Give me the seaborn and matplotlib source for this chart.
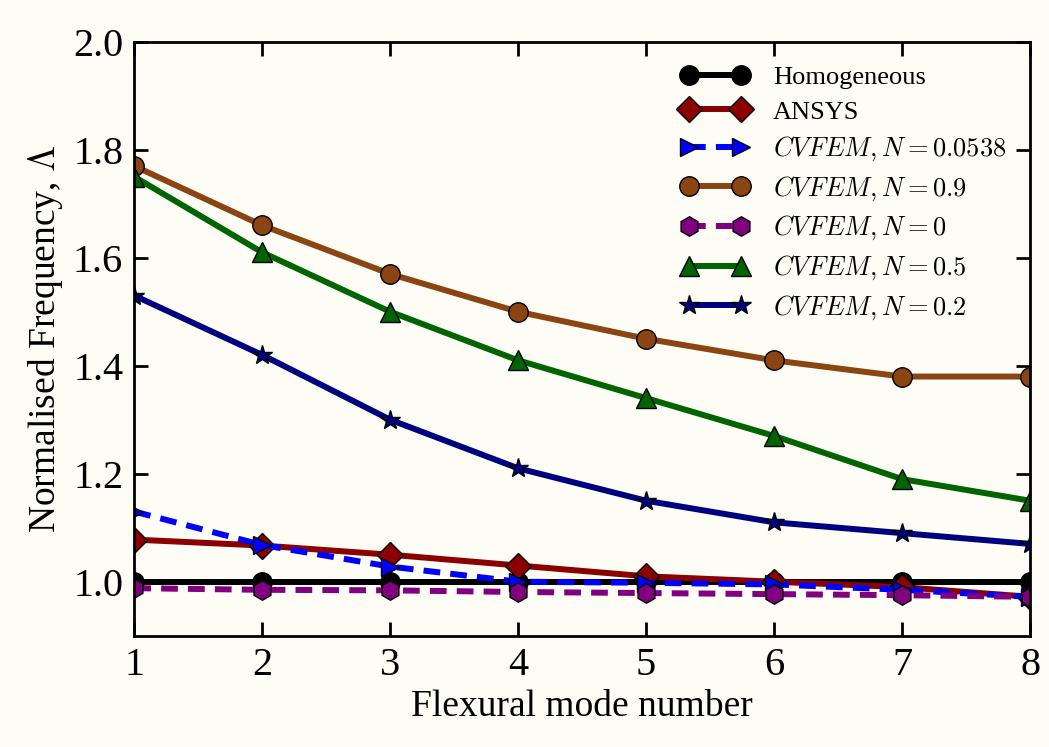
import matplotlib
matplotlib.use("Agg")
import matplotlib.pyplot as plt
import seaborn as sns
import pandas as pd

modes = [1, 2, 3, 4, 5, 6, 7, 8]
homogeneous = [1.0, 1.0, 1.0, 1.0, 1.0, 1.0, 1.0, 1.0]
ansys = [1.078, 1.067, 1.05, 1.03, 1.01, 1.0, 0.99, 0.972]
cvfem_00538 = [1.13, 1.068, 1.028, 1.0, 0.998, 0.995, 0.985, 0.972]
cvfem_09 = [1.77, 1.66, 1.57, 1.50, 1.45, 1.41, 1.38, 1.38]
cvfem_0 = [0.988, 0.985, 0.984, 0.981, 0.979, 0.977, 0.975, 0.972]
cvfem_05 = [1.75, 1.61, 1.50, 1.41, 1.34, 1.27, 1.19, 1.15]
cvfem_02 = [1.53, 1.42, 1.30, 1.21, 1.15, 1.11, 1.09, 1.07]

labels = ["Homogeneous", "ANSYS", r"$CVFEM,N=0.0538$", r"$CVFEM,N=0.9$",
          r"$CVFEM,N=0$", r"$CVFEM,N=0.5$", r"$CVFEM,N=0.2$"]

sns.set_theme(style="ticks")
plt.rcParams["font.family"] = ["Liberation Serif", "DejaVu Serif"]
plt.rcParams["mathtext.fontset"] = "cm"
plt.rcParams["text.color"] = "black"
plt.rcParams["axes.labelcolor"] = "black"
plt.rcParams["xtick.color"] = "black"
plt.rcParams["ytick.color"] = "black"

bg = "#fdfdf6"
fig = plt.figure(figsize=(10.49, 7.47), dpi=100, facecolor=bg)
ax = fig.add_axes([0.128, 0.149, 0.854, 0.795])
ax.set_facecolor(bg)

dashed = (0, (2.8, 1.7))
styles = [
    dict(color="black", marker="o", linestyle="-"),
    dict(color="#8B0000", marker="D", linestyle="-"),
    dict(color="#0000FF", marker=">", linestyle=dashed),
    dict(color="#8B4513", marker="o", linestyle="-"),
    dict(color="#800080", marker="h", linestyle=dashed),
    dict(color="#006400", marker="^", linestyle="-"),
    dict(color="#000080", marker="*", linestyle="-"),
]
series = [homogeneous, ansys, cvfem_00538, cvfem_09, cvfem_0, cvfem_05, cvfem_02]
sizes = {"o": 14, "h": 14, "^": 14, "D": 13, ">": 13, "*": 15}

for vals, lab, st in zip(series, labels, styles):
    df = pd.DataFrame({"mode": modes, "freq": vals})
    sns.lineplot(data=df, x="mode", y="freq", ax=ax, label=lab,
                 color=st["color"], linestyle=st["linestyle"], linewidth=4.3,
                 marker=st["marker"], markersize=sizes[st["marker"]],
                 markerfacecolor=st["color"], markeredgecolor="black",
                 markeredgewidth=1)

ax.set_xlim(1, 8)
ax.set_ylim(0.9, 2.0)
ax.set_yticks([1.0, 1.2, 1.4, 1.6, 1.8, 2.0])
ax.set_xticks(modes)
ax.tick_params(direction="in", length=10, width=2, labelsize=29,
               top=True, right=True, pad=8, colors="black")
for s in ax.spines.values():
    s.set_linewidth(2)
    s.set_color("black")
ax.set_xlabel("Flexural mode number", fontsize=27, labelpad=4)
ax.set_ylabel(r"Normalised Frequency, $\Lambda$", fontsize=27, labelpad=6)

leg = ax.legend(loc="upper right", frameon=False, numpoints=2, fontsize=19,
                handlelength=2.6, handletextpad=0.9, labelspacing=0.42,
                borderaxespad=0.5)
fig.savefig("out.png", dpi=100, facecolor=bg)
